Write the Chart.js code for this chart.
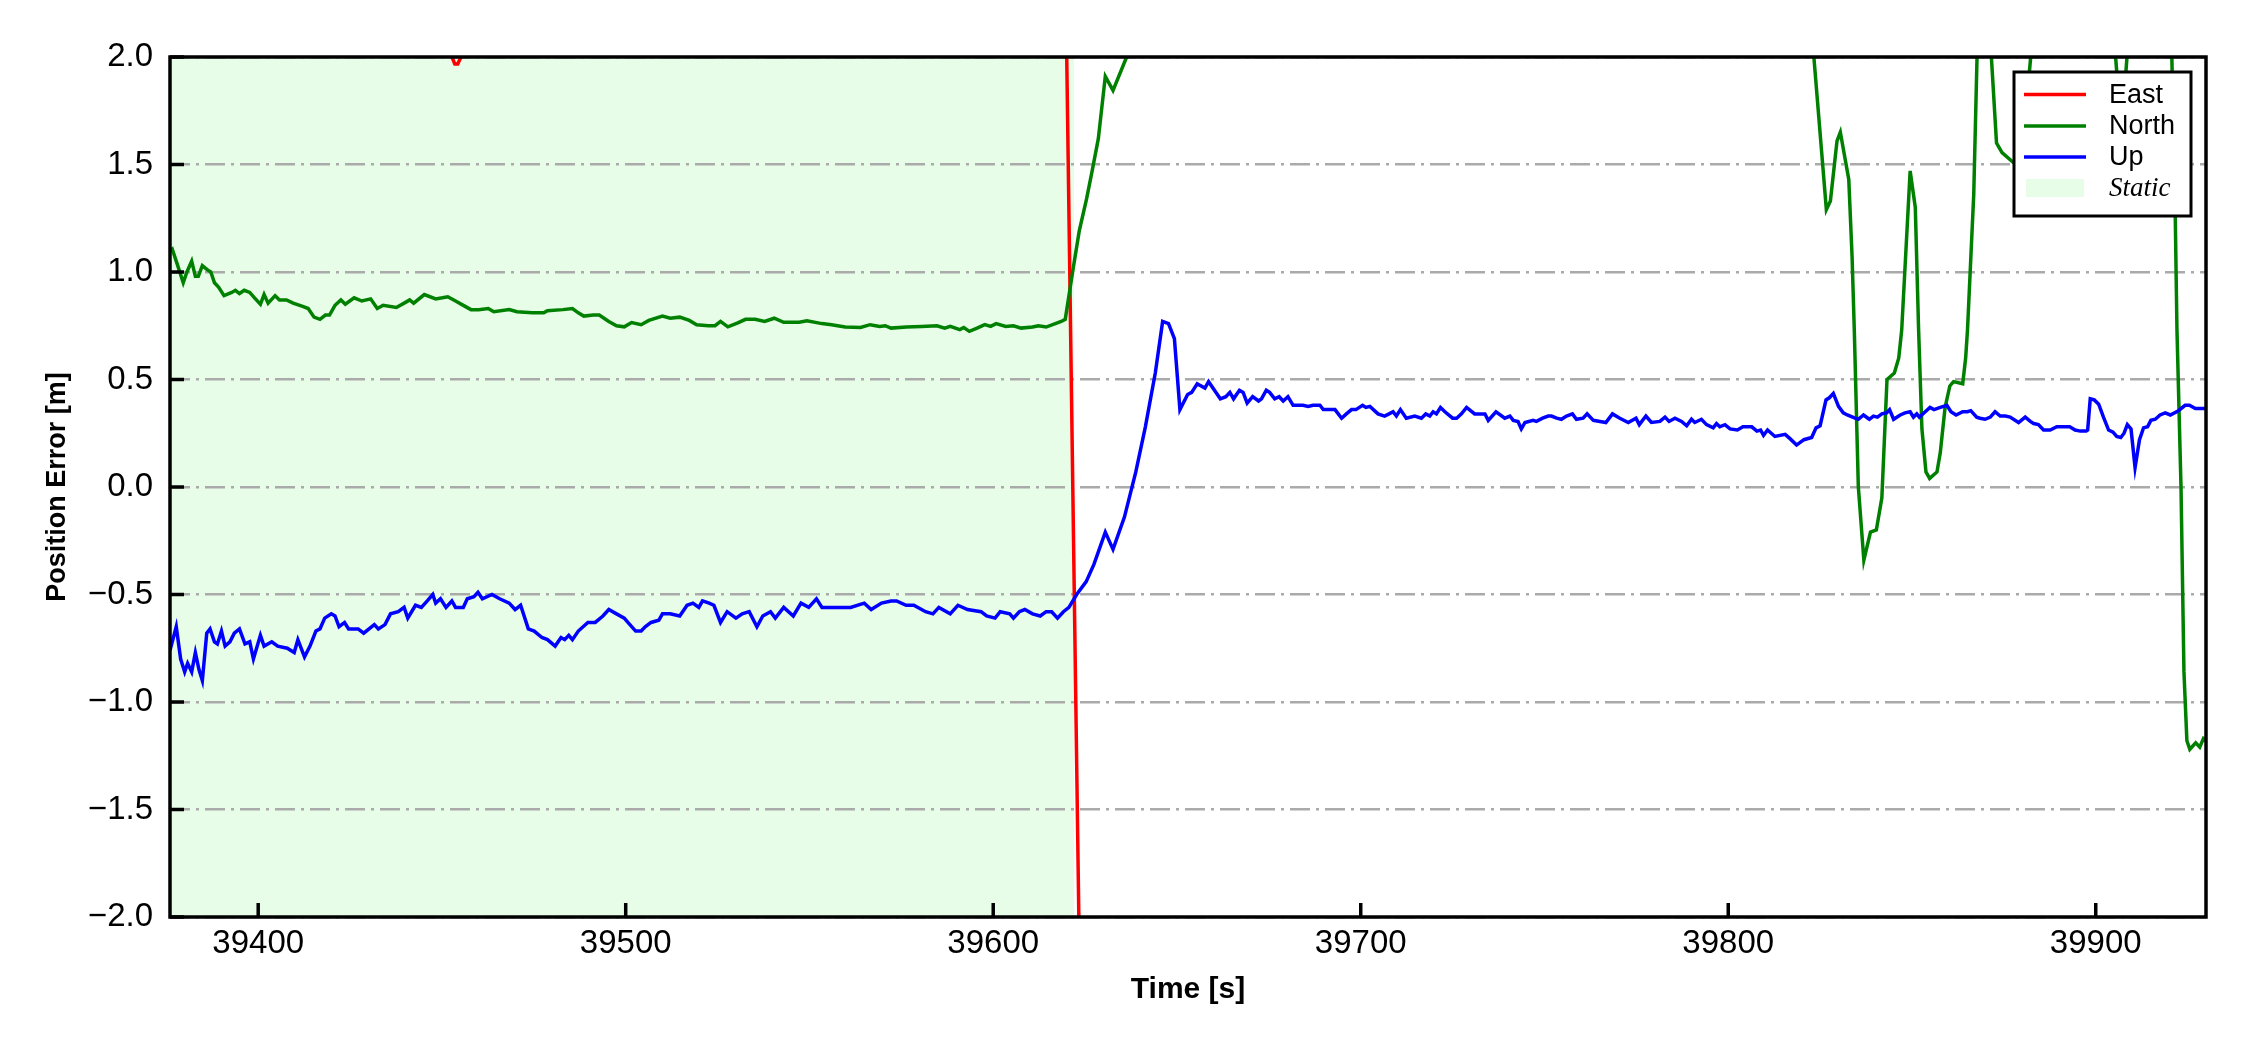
<!DOCTYPE html>
<html>
<head>
<meta charset="utf-8">
<script src="https://cdn.jsdelivr.net/npm/chart.js@4/dist/chart.umd.min.js"></script>
<style>
  html, body { margin: 0; padding: 0; background: #ffffff; }
  #wrap { width: 2250px; height: 1050px; position: relative; }
</style>
</head>
<body>
<div id="wrap"><canvas id="chartErro"></canvas></div>
<script>
// leitura aproximada da figura original (tempo em s, erro em m)
var tempoEast = [39376, 39420, 39451, 39452.7, 39453.5, 39454.3, 39455.2, 39457, 39500, 39580, 39619.5, 39624, 39700, 39930];
var east = [2.5, 2.4, 2.12, 2.0, 1.968, 1.968, 2.0, 2.12, 2.4, 2.5, 2.61, -2.85, -3.5, -3.5];

var tempoNorth = [39376, 39376.6, 39377.9, 39379.6, 39380.6, 39381.9, 39382.9, 39383.7, 39384.8, 39386.2, 39387.1, 39388.1, 39389.2, 39390.7, 39392.8, 39393.8, 39394.9, 39396.2, 39397.7, 39399, 39400.6, 39401.6, 39402.7, 39404.6, 39405.8, 39407.7, 39409.5, 39412.1, 39413.6, 39415.2, 39416.8, 39418.3, 39419.4, 39420.9, 39422.5, 39423.7, 39426.1, 39428.2, 39430.6, 39432.4, 39434, 39437.6, 39440.2, 39441.2, 39442.3, 39445.2, 39448.3, 39450.1, 39451.6, 39453.7, 39456.3, 39457.9, 39460, 39462.6, 39464.1, 39468.3, 39470.4, 39474.6, 39477.7, 39478.7, 39482.9, 39485.5, 39487.1, 39488.6, 39491.2, 39492.8, 39495.4, 39497.5, 39499.6, 39501.6, 39504.2, 39506.3, 39510, 39512.1, 39514.7, 39517.3, 39519.3, 39522.5, 39524.3, 39525.8, 39527.8, 39530.5, 39532.6, 39535.2, 39537.8, 39540.4, 39543, 39547.2, 39549.3, 39553.4, 39556, 39559.7, 39563.9, 39566.5, 39569.1, 39570.6, 39572.2, 39576.4, 39580.5, 39584.7, 39586.8, 39588.3, 39590.9, 39592, 39593.5, 39595.6, 39597.7, 39599.3, 39600.8, 39603.4, 39605.5, 39607.6, 39610.7, 39612.3, 39614.4, 39616.9, 39618.5, 39619.6, 39620.6, 39621.7, 39623.4, 39625.4, 39626.8, 39628.6, 39630.5, 39632.6, 39636.3, 39640, 39700, 39800, 39820.5, 39823.3, 39826.7, 39827.8, 39829.6, 39830.5, 39832.8, 39833.7, 39834.3, 39835.4, 39836.9, 39838.7, 39840.3, 39841.8, 39843.2, 39845.2, 39846.4, 39847.2, 39849.5, 39850.9, 39851.8, 39852.7, 39853.8, 39854.8, 39856.8, 39857.7, 39859, 39860.3, 39861.3, 39863.8, 39864.6, 39865.1, 39866.8, 39867.7, 39869.5, 39871.6, 39873, 39874.5, 39878.2, 39879.5, 39881, 39882.3, 39884, 39903.5, 39905.4, 39907, 39908.5, 39910.5, 39919, 39920.7, 39921.6, 39922.1, 39923.2, 39924, 39924.8, 39925.6, 39927.2, 39928.3, 39929.3, 39930];
var north = [1.10, 1.107, 1.04, 0.95, 1.00, 1.05, 0.98, 0.98, 1.03, 1.01, 1.00, 0.95, 0.93, 0.89, 0.905, 0.915, 0.90, 0.915, 0.905, 0.88, 0.85, 0.895, 0.855, 0.89, 0.87, 0.87, 0.855, 0.84, 0.83, 0.79, 0.78, 0.80, 0.80, 0.845, 0.87, 0.85, 0.88, 0.865, 0.875, 0.83, 0.845, 0.835, 0.86, 0.87, 0.855, 0.895, 0.875, 0.88, 0.885, 0.865, 0.84, 0.825, 0.825, 0.83, 0.815, 0.825, 0.815, 0.81, 0.81, 0.82, 0.825, 0.83, 0.81, 0.795, 0.80, 0.80, 0.77, 0.75, 0.745, 0.765, 0.755, 0.775, 0.795, 0.785, 0.79, 0.775, 0.755, 0.75, 0.75, 0.77, 0.745, 0.763, 0.78, 0.78, 0.77, 0.785, 0.766, 0.766, 0.773, 0.76, 0.755, 0.744, 0.742, 0.755, 0.747, 0.75, 0.739, 0.744, 0.747, 0.75, 0.739, 0.747, 0.732, 0.742, 0.724, 0.739, 0.755, 0.747, 0.76, 0.747, 0.75, 0.739, 0.744, 0.75, 0.744, 0.76, 0.77, 0.78, 0.89, 1.01, 1.19, 1.34, 1.46, 1.62, 1.91, 1.845, 2.0, 2.5, 2.7, 2.7, 2.5, 2.0, 1.29, 1.33, 1.61, 1.65, 1.43, 1.07, 0.73, 0.0, -0.34, -0.21, -0.20, -0.05, 0.50, 0.53, 0.60, 0.73, 1.47, 1.30, 0.73, 0.27, 0.07, 0.04, 0.07, 0.16, 0.37, 0.47, 0.49, 0.48, 0.60, 0.73, 1.36, 2.0, 2.5, 2.0, 1.60, 1.555, 1.50, 1.53, 1.75, 2.0, 2.4, 2.4, 2.0, 1.65, 2.0, 2.4, 2.4, 2.0, 1.30, 0.73, 0.0, -0.86, -1.18, -1.22, -1.19, -1.21, -1.17, -1.18];

var tempoUp = [39376, 39377.7, 39378.9, 39380, 39380.8, 39381.9, 39382.9, 39383.9, 39384.8, 39386, 39386.9, 39388.1, 39388.9, 39390, 39391, 39392.3, 39393.5, 39394.9, 39396.4, 39397.7, 39398.7, 39400.6, 39401.6, 39403.7, 39405.3, 39407.9, 39409.8, 39410.8, 39412.6, 39414.1, 39415.7, 39416.8, 39418.1, 39419.9, 39420.9, 39422, 39423.5, 39424.6, 39427.2, 39428.7, 39431.6, 39432.7, 39434.5, 39436, 39438.1, 39439.7, 39440.7, 39442.8, 39444.4, 39446, 39447.5, 39448.3, 39449.6, 39451.1, 39452.7, 39453.7, 39455.8, 39456.9, 39458.7, 39459.8, 39461, 39463.6, 39465.7, 39468.3, 39469.9, 39471.4, 39473.5, 39475.1, 39477.2, 39478.7, 39480.8, 39482.4, 39483.4, 39484.5, 39485.5, 39487.1, 39489.7, 39491.7, 39493.8, 39495.4, 39497.5, 39499.6, 39500.6, 39502.7, 39504.2, 39505.3, 39506.9, 39509, 39510, 39512.1, 39514.7, 39516.7, 39518.3, 39519.9, 39520.9, 39522.7, 39524, 39525.8, 39527.6, 39530, 39531.7, 39533.6, 39535.7, 39537.3, 39539.4, 39540.7, 39543, 39545.6, 39547.7, 39549.8, 39551.9, 39553.4, 39556.6, 39559.2, 39561.2, 39564.9, 39566.8, 39569.6, 39572.2, 39573.7, 39576.3, 39578.4, 39581.6, 39583.6, 39585.2, 39588.3, 39590.4, 39593, 39596.7, 39598.2, 39600.5, 39601.9, 39604.5, 39605.5, 39607.1, 39608.6, 39610.7, 39612.8, 39614.4, 39615.9, 39617.5, 39619.1, 39620.6, 39622.7, 39625.3, 39627.4, 39630.5, 39632.6, 39635.7, 39638.8, 39641.4, 39644.1, 39646.1, 39647.7, 39649.3, 39650.8, 39652.9, 39654, 39655.5, 39657.6, 39658.6, 39660.2, 39661.8, 39663.3, 39664.4, 39665.4, 39667, 39668, 39669.1, 39670.6, 39672.2, 39673, 39674.3, 39675.2, 39676.6, 39677.8, 39678.9, 39680.2, 39681.6, 39684.3, 39685.7, 39687, 39688.9, 39689.8, 39691.1, 39693, 39694.8, 39696.1, 39697.5, 39698.7, 39700.5, 39701.4, 39702.5, 39704.7, 39706.5, 39707.7, 39708.8, 39709.7, 39710.8, 39712.4, 39714.7, 39716.5, 39717.7, 39718.8, 39719.7, 39720.6, 39721.7, 39722.9, 39725, 39726.1, 39727.4, 39728.8, 39731, 39732.4, 39733.8, 39734.7, 39736.8, 39739.2, 39740.6, 39741.5, 39742.8, 39743.7, 39744.7, 39746.9, 39747.8, 39749.5, 39751, 39751.9, 39753.3, 39754.6, 39756, 39757.6, 39758.7, 39760.5, 39761.6, 39763.3, 39765.1, 39766.7, 39768.5, 39770.5, 39772.8, 39774.9, 39775.8, 39777.6, 39779.1, 39781.4, 39782.8, 39783.9, 39785.5, 39787.3, 39788.7, 39790, 39790.9, 39792.7, 39794.1, 39795.9, 39796.8, 39797.7, 39799.1, 39800.5, 39802.5, 39804, 39806.4, 39807.8, 39808.8, 39809.6, 39810.7, 39812.7, 39815.5, 39816.8, 39818.6, 39820.6, 39822.7, 39823.9, 39825, 39826.6, 39827.5, 39828.6, 39830, 39831.3, 39832.4, 39834.5, 39835.4, 39836.8, 39838.4, 39839.5, 39840.6, 39841.8, 39843.1, 39843.9, 39845, 39846.8, 39848.1, 39849.5, 39850.4, 39851.3, 39852, 39853.6, 39854.9, 39856, 39857.7, 39859.5, 39860.6, 39862, 39863.8, 39865.1, 39866, 39867.6, 39868.5, 39869.9, 39871.3, 39872.6, 39874, 39875.4, 39876.7, 39879, 39880.8, 39882.2, 39883.1, 39884.4, 39885.8, 39887.6, 39889.4, 39891.2, 39892.9, 39894.4, 39895.8, 39897.4, 39897.8, 39898.5, 39899.6, 39900.8, 39902.1, 39903.5, 39904.7, 39905.7, 39906.8, 39907.7, 39908.6, 39909.6, 39910.7, 39911.9, 39913, 39914.1, 39915, 39916.2, 39917.5, 39918.9, 39920.3, 39922.5, 39924.3, 39925.5, 39927.1, 39929.3, 39930];
var up = [-0.76, -0.65, -0.80, -0.86, -0.82, -0.86, -0.77, -0.85, -0.90, -0.68, -0.66, -0.72, -0.73, -0.67, -0.74, -0.72, -0.68, -0.66, -0.73, -0.72, -0.80, -0.69, -0.74, -0.72, -0.74, -0.75, -0.77, -0.71, -0.79, -0.74, -0.67, -0.66, -0.61, -0.59, -0.60, -0.65, -0.63, -0.66, -0.66, -0.68, -0.64, -0.66, -0.64, -0.59, -0.58, -0.56, -0.61, -0.55, -0.56, -0.53, -0.50, -0.54, -0.52, -0.56, -0.53, -0.56, -0.56, -0.52, -0.51, -0.49, -0.52, -0.50, -0.52, -0.54, -0.57, -0.55, -0.66, -0.67, -0.70, -0.71, -0.74, -0.70, -0.71, -0.69, -0.71, -0.67, -0.63, -0.63, -0.60, -0.57, -0.59, -0.61, -0.63, -0.67, -0.67, -0.65, -0.63, -0.62, -0.59, -0.59, -0.60, -0.55, -0.54, -0.56, -0.53, -0.54, -0.55, -0.63, -0.58, -0.61, -0.59, -0.58, -0.65, -0.60, -0.58, -0.61, -0.56, -0.60, -0.54, -0.56, -0.52, -0.56, -0.56, -0.56, -0.56, -0.54, -0.57, -0.54, -0.53, -0.53, -0.55, -0.55, -0.58, -0.59, -0.56, -0.59, -0.55, -0.57, -0.58, -0.60, -0.61, -0.58, -0.59, -0.61, -0.58, -0.57, -0.59, -0.60, -0.58, -0.58, -0.61, -0.58, -0.56, -0.50, -0.44, -0.36, -0.21, -0.29, -0.14, 0.07, 0.28, 0.53, 0.77, 0.76, 0.69, 0.36, 0.43, 0.44, 0.48, 0.46, 0.49, 0.45, 0.41, 0.42, 0.44, 0.41, 0.45, 0.44, 0.39, 0.42, 0.40, 0.41, 0.45, 0.44, 0.41, 0.42, 0.40, 0.42, 0.38, 0.38, 0.375, 0.38, 0.38, 0.36, 0.36, 0.36, 0.32, 0.34, 0.36, 0.36, 0.38, 0.37, 0.375, 0.34, 0.33, 0.34, 0.35, 0.33, 0.36, 0.32, 0.33, 0.32, 0.34, 0.33, 0.35, 0.34, 0.37, 0.35, 0.32, 0.32, 0.34, 0.37, 0.34, 0.34, 0.34, 0.31, 0.35, 0.32, 0.33, 0.31, 0.305, 0.27, 0.30, 0.31, 0.305, 0.32, 0.33, 0.33, 0.32, 0.315, 0.33, 0.34, 0.315, 0.32, 0.34, 0.31, 0.305, 0.30, 0.34, 0.32, 0.30, 0.32, 0.29, 0.33, 0.30, 0.305, 0.325, 0.305, 0.32, 0.305, 0.285, 0.315, 0.30, 0.315, 0.29, 0.275, 0.295, 0.28, 0.29, 0.27, 0.265, 0.28, 0.28, 0.26, 0.265, 0.24, 0.265, 0.235, 0.245, 0.225, 0.195, 0.22, 0.23, 0.275, 0.285, 0.405, 0.415, 0.435, 0.375, 0.345, 0.335, 0.32, 0.315, 0.335, 0.315, 0.33, 0.325, 0.34, 0.345, 0.36, 0.315, 0.335, 0.345, 0.35, 0.325, 0.34, 0.325, 0.35, 0.37, 0.36, 0.37, 0.38, 0.35, 0.335, 0.35, 0.35, 0.355, 0.325, 0.32, 0.315, 0.325, 0.35, 0.33, 0.33, 0.325, 0.30, 0.325, 0.305, 0.295, 0.29, 0.265, 0.265, 0.28, 0.28, 0.28, 0.265, 0.26, 0.26, 0.265, 0.41, 0.405, 0.385, 0.325, 0.265, 0.255, 0.235, 0.23, 0.25, 0.29, 0.27, 0.09, 0.22, 0.275, 0.28, 0.31, 0.315, 0.335, 0.345, 0.335, 0.355, 0.38, 0.38, 0.365, 0.365, 0.365];

var periodoStatic = [39376, 39622];
var limitesTempo = [39376, 39930];
var limitesErro = [-2, 2];

var coresSerie = ['#ff0000', '#008000', '#0000ff'];
var corStatic = '#e8fde8';

function pontos(ts, vs) {
  return ts.map(function (t, i) { return {x: t, y: vs[i]}; });
}

var fonteSans = "'Liberation Sans', Arial, sans-serif";
var espessura = 3.5;

// moldura, ticks para dentro e legenda no estilo matplotlib
var pluginMoldura = {
  id: 'moldura',
  afterDraw: function (chart) {
    var ctx = chart.ctx;
    var a = chart.chartArea;
    var sx = chart.scales.x, sy = chart.scales.y;
    ctx.save();
    ctx.strokeStyle = '#000';
    ctx.lineWidth = 3.5;
    sy.ticks.forEach(function (t) {
      var y = sy.getPixelForValue(t.value);
      ctx.beginPath(); ctx.moveTo(a.left, y); ctx.lineTo(a.left + 14, y); ctx.stroke();
    });
    sx.ticks.forEach(function (t) {
      var x = sx.getPixelForValue(t.value);
      ctx.beginPath(); ctx.moveTo(x, a.bottom); ctx.lineTo(x, a.bottom - 14); ctx.stroke();
    });
    ctx.strokeRect(a.left, a.top, a.right - a.left, a.bottom - a.top);

    // legenda
    var lx = 2014, ly = 72, lw = 177, lh = 144;
    ctx.fillStyle = '#fff';
    ctx.fillRect(lx, ly, lw, lh);
    ctx.lineWidth = 3;
    ctx.strokeRect(lx, ly, lw, lh);
    var itens = chart.data.datasets;
    var ys = [94.5, 126, 157, 188];
    ctx.textBaseline = 'middle';
    ctx.textAlign = 'left';
    itens.forEach(function (ds, i) {
      var y = ys[i];
      if (ds.label === 'Static') {
        ctx.fillStyle = ds.backgroundColor;
        ctx.fillRect(2026, y - 9, 58, 18);
        ctx.fillStyle = '#000';
        ctx.font = "italic 27px 'Liberation Serif', 'Times New Roman', serif";
      } else {
        ctx.strokeStyle = ds.borderColor;
        ctx.lineWidth = espessura;
        ctx.beginPath(); ctx.moveTo(2024, y); ctx.lineTo(2086, y); ctx.stroke();
        ctx.fillStyle = '#000';
        ctx.font = '27px ' + fonteSans;
      }
      ctx.fillText(ds.label, 2109, y + 1);
    });
    ctx.restore();
  }
};

var ctxErro = document.getElementById('chartErro').getContext('2d');

var configErro = {
  type: 'line',
  data: {
    datasets: [{
      label: 'East',
      data: pontos(tempoEast, east),
      borderColor: coresSerie[0],
      borderWidth: espessura,
      pointRadius: 0,
      tension: 0,
      fill: false,
      order: 2
    }, {
      label: 'North',
      data: pontos(tempoNorth, north),
      borderColor: coresSerie[1],
      borderWidth: espessura,
      pointRadius: 0,
      tension: 0,
      fill: false,
      order: 1
    }, {
      label: 'Up',
      data: pontos(tempoUp, up),
      borderColor: coresSerie[2],
      borderWidth: espessura,
      pointRadius: 0,
      tension: 0,
      fill: false,
      order: 0
    }, {
      label: 'Static',
      data: pontos(periodoStatic, [limitesErro[1], limitesErro[1]]),
      borderColor: 'rgba(0,0,0,0)',
      backgroundColor: corStatic,
      borderWidth: 0,
      pointRadius: 0,
      fill: {value: limitesErro[0]},
      order: 3
    }]
  },
  options: {
    responsive: true,
    maintainAspectRatio: false,
    animation: false,
    events: [],
    layout: {
      padding: {top: 57, right: 44, left: 0, bottom: 0}
    },
    plugins: {
      legend: {display: false},
      tooltip: {enabled: false},
      filler: {drawTime: 'beforeDraw'}
    },
    scales: {
      x: {
        type: 'linear',
        min: limitesTempo[0],
        max: limitesTempo[1],
        afterFit: function (scale) { scale.height = 133; },
        grid: {display: false, drawTicks: false},
        border: {display: false},
        ticks: {
          stepSize: 100,
          includeBounds: false,
          maxRotation: 0,
          padding: 7,
          color: '#000',
          font: {family: fonteSans, size: 33},
          callback: function (v) { return String(v); }
        },
        title: {
          display: true,
          text: 'Time [s]',
          color: '#000',
          font: {family: fonteSans, size: 30, weight: 'bold'},
          padding: {top: 0, bottom: 42}
        }
      },
      y: {
        min: limitesErro[0],
        max: limitesErro[1],
        afterFit: function (scale) { scale.width = 170; },
        grid: {
          color: '#aaaaaa',
          lineWidth: 2.5,
          drawTicks: false
        },
        border: {display: false, dash: [20, 6, 3, 6]},
        ticks: {
          stepSize: 0.5,
          padding: 17,
          color: '#000',
          font: {family: fonteSans, size: 33},
          callback: function (v) { return (v < 0 ? '\u2212' : '') + Math.abs(v).toFixed(1); }
        },
        title: {
          display: true,
          text: 'Position Error [m]',
          color: '#000',
          font: {family: fonteSans, size: 27, weight: 'bold'},
          padding: {top: 41, bottom: 0}
        }
      }
    }
  },
  plugins: [pluginMoldura]
};

var chartErro = new Chart(ctxErro, configErro);
</script>
</body>
</html>
